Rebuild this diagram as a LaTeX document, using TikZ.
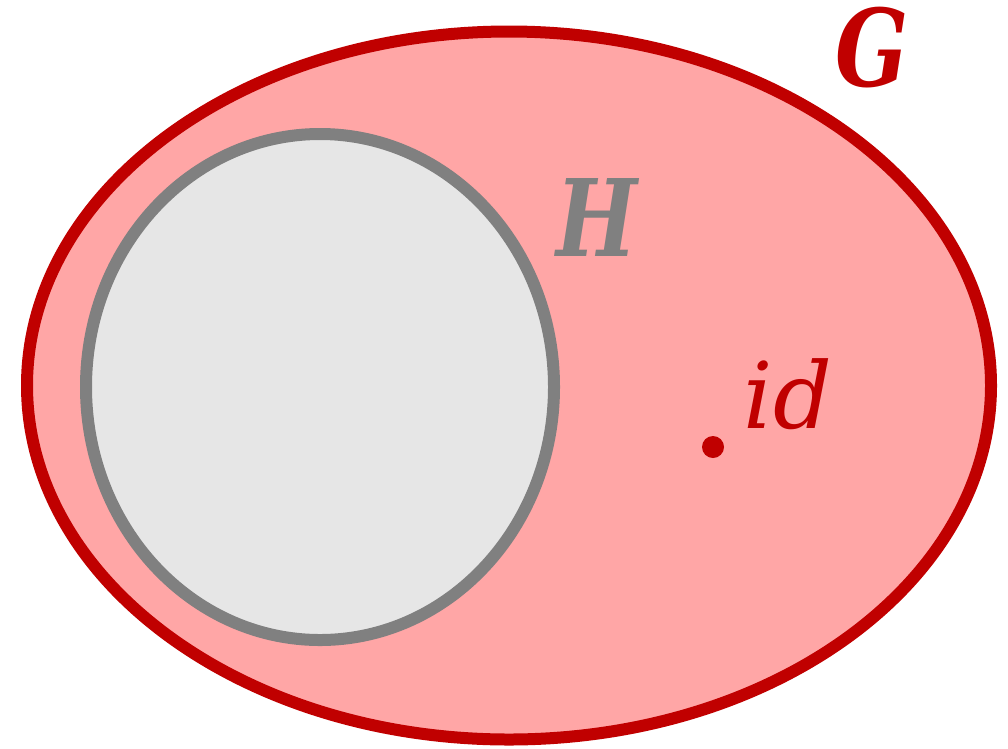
\documentclass[tikz,border=0pt]{standalone}
\usepackage{fontspec}
\setmainfont{DejaVu Serif}
\definecolor{gred}{HTML}{C00000}
\definecolor{gfill}{HTML}{FFA6A6}
\definecolor{hgray}{HTML}{808080}
\definecolor{hfill}{HTML}{E6E6E6}
\tikzset{
  setG/.style={draw=gred, fill=gfill, line width=12pt},
  setH/.style={draw=hgray, fill=hfill, line width=12pt},
  lbl/.style={inner sep=0pt, anchor=base, xscale=0.8, transform shape, font=\fontsize{107}{110}\selectfont\bfseries\itshape}
}
\begin{document}
\begin{tikzpicture}[x=1pt,y=-1pt]
\useasboundingbox (0,0) rectangle (1008,748);
\draw[setG] (509,385.5) ellipse [x radius=482, y radius=354];
\draw[setH] (320,387) ellipse [x radius=234, y radius=253];
\node[lbl, text=gred] (G) at (872,86) {G};
\node[lbl, text=hgray] (H) at (597,256) {H};
\node[inner sep=0pt, anchor=base, text=gred, font=\fontsize{92}{96}\selectfont\itshape] (id) at (788,428) {id};
\fill[gred] (713,447) circle [radius=11] coordinate (dot);
\end{tikzpicture}
\end{document}
